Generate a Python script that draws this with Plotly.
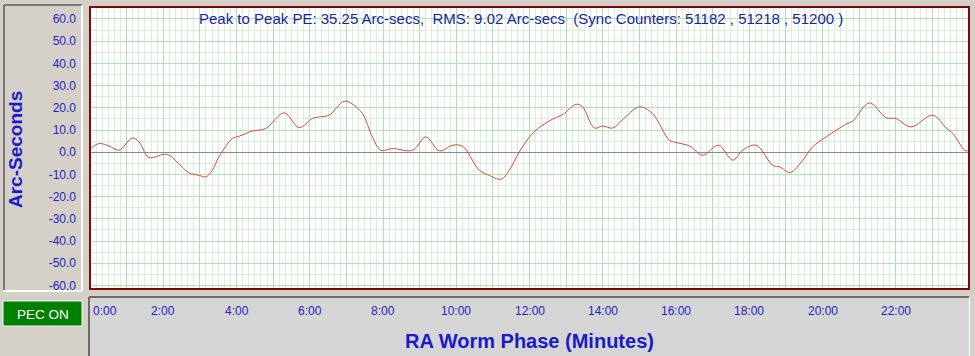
import plotly.graph_objects as go

# ---- data ----
phase_min = [0, 0.25, 0.52, 0.79, 1.16, 1.34, 1.61, 2.02, 2.16, 2.42, 2.7, 2.98, 3.16, 3.34, 3.52,
             3.89, 4.07, 4.43, 4.8, 5.3, 5.71, 6.07, 6.26, 6.53, 6.94, 7.17, 7.44, 7.71, 7.94,
             8.26, 8.81, 9.17, 9.54, 9.9, 10.17, 10.63, 10.9, 11.22, 11.45, 11.72, 12.08, 12.36,
             12.63, 12.91, 13.27, 13.45, 13.77, 14.0, 14.27, 14.62, 15.0, 15.36, 15.82, 16.0,
             16.37, 16.73, 17.16, 17.55, 17.82, 18.19, 18.64, 18.83, 19.12, 19.46, 19.73, 20.1,
             20.64, 20.83, 21.28, 21.74, 22.0, 22.42, 23.01, 23.38, 23.56, 23.88, 23.97]
pe_arcsec = [1.4, 3.9, 2.8, 0.9, 6.4, 4.6, -2.4, -0.9, -1.35, -5.1, -9.3, -10.4, -11.1, -8.1, -2.1,
             6.2, 7.2, 9.5, 10.7, 17.7, 11.1, 15.2, 15.9, 16.7, 23.0, 21.6, 17.4, 6.9, 0.9,
             1.65, 0.9, 6.9, 0.6, 3.15, 2.7, -8.1, -10.4, -12.2, -8.1, 0.1, 8.4, 12.2,
             14.9, 17.0, 21.6, 20.4, 10.9, 11.8, 10.9, 15.9, 20.4, 17.4, 5.4, 4.4,
             2.8, -1.35, 3.15, -3.6, 0.9, 3.15, -5.9, -6.6, -9.1, -3.6, 2.4, 6.9,
             12.6, 14.1, 22.2, 15.5, 15.2, 11.4, 16.7, 10.9, 8.4, 0.9, 0.6]

y_tick_vals = [60, 50, 40, 30, 20, 10, 0, -10, -20, -30, -40, -50, -60]
y_tick_text = ["60.0", "50.0", "40.0", "30.0", "20.0", "10.0", "0.0", "-10.0", "-20.0",
               "-30.0", "-40.0", "-50.0", "-60.0"]
x_tick_vals = [0, 2, 4, 6, 8, 10, 12, 14, 16, 18, 20, 22]
x_tick_text = ["0:00", "2:00", "4:00", "6:00", "8:00", "10:00", "12:00", "14:00", "16:00",
               "18:00", "20:00", "22:00"]

title_text = ("Peak to Peak PE: 35.25 Arc-secs,\u00a0\u00a0RMS: 9.02 Arc-secs\u00a0\u00a0"
              "(Sync Counters: 51182 , 51218 , 51200 )")
x_title = "RA Worm Phase (Minutes)"
y_title = "Arc-Seconds"
status_text = "PEC ON"

# ---- geometry helpers (pixel -> paper) ----
W, H = 975, 356
L, R, T, B = 90, 969, 7, 289


def px(x):
    return (x - L) / (R - L)


def py(y):
    return (B - y) / (B - T)


FONT = "Liberation Sans, Arial, sans-serif"
BLUE = "#2424c4"

fig = go.Figure()
fig.add_trace(go.Scatter(x=phase_min, y=pe_arcsec, mode="lines",
                         line=dict(color="#d24848", width=1, shape="spline", smoothing=1.0),
                         hoverinfo="skip", showlegend=False))

shapes = []
# left panel (y-axis box)
shapes.append(dict(type="rect", xref="paper", yref="paper", x0=px(4), x1=px(82), y0=py(290), y1=py(5),
                   fillcolor="#d4d0c8", line=dict(width=0), layer="below"))
shapes.append(dict(type="line", xref="paper", yref="paper", x0=px(4), x1=px(4), y0=py(290), y1=py(5),
                   line=dict(color="#7a7a7a", width=2)))
shapes.append(dict(type="line", xref="paper", yref="paper", x0=px(4), x1=px(82), y0=py(5), y1=py(5),
                   line=dict(color="#7a7a7a", width=2)))
shapes.append(dict(type="line", xref="paper", yref="paper", x0=px(82), x1=px(82), y0=py(291), y1=py(5),
                   line=dict(color="#ffffff", width=2)))
shapes.append(dict(type="line", xref="paper", yref="paper", x0=px(4), x1=px(82), y0=py(291), y1=py(291),
                   line=dict(color="#ffffff", width=2)))
# PEC ON box
shapes.append(dict(type="rect", xref="paper", yref="paper", x0=px(3), x1=px(82), y0=py(326), y1=py(301),
                   fillcolor="#008000", line=dict(color="#f4f4f4", width=1)))
# bottom panel (x-axis box)
shapes.append(dict(type="rect", xref="paper", yref="paper", x0=px(89), x1=px(969), y0=py(360), y1=py(297),
                   fillcolor="#d5d5d5", line=dict(width=0), layer="below"))
shapes.append(dict(type="line", xref="paper", yref="paper", x0=px(89), x1=px(969), y0=py(297), y1=py(297),
                   line=dict(color="#6a6a6a", width=2)))
shapes.append(dict(type="line", xref="paper", yref="paper", x0=px(89), x1=px(89), y0=py(360), y1=py(297),
                   line=dict(color="#6a6a6a", width=2)))
shapes.append(dict(type="line", xref="paper", yref="paper", x0=px(969.5), x1=px(969.5), y0=py(360), y1=py(297),
                   line=dict(color="#ffffff", width=1)))
# plot border
shapes.append(dict(type="rect", xref="paper", yref="paper", x0=0, x1=1, y0=0, y1=1,
                   line=dict(color="#7a0a0a", width=2), layer="above"))

annotations = []
annotations.append(dict(text=title_text, xref="paper", yref="paper", x=px(197), y=py(18),
                        xanchor="left", yanchor="middle", showarrow=False,
                        font=dict(family=FONT, size=15, color="#1e1ea0")))
for v, t in zip(x_tick_vals, x_tick_text):
    annotations.append(dict(text=t, x=v, xref="x", yref="paper", y=py(311),
                            xanchor="left" if v == 0 else "center", yanchor="middle",
                            xshift=1 if v == 0 else 0, showarrow=False,
                            font=dict(family=FONT, size=12, color=BLUE)))
annotations.append(dict(text="<b>" + x_title + "</b>", xref="paper", yref="paper", x=0.5, y=py(341),
                        xanchor="center", yanchor="middle", showarrow=False,
                        font=dict(family=FONT, size=20, color="#1a1ac8")))
annotations.append(dict(text="<b>" + y_title + "</b>", xref="paper", yref="paper", x=px(15), y=py(150),
                        xanchor="center", yanchor="middle", textangle=-90, showarrow=False,
                        font=dict(family=FONT, size=19, color="#1a1ac8")))
annotations.append(dict(text=status_text, xref="paper", yref="paper", x=px(42.5), y=py(314),
                        xanchor="center", yanchor="middle", showarrow=False,
                        font=dict(family=FONT, size=13.5, color="#ffffff")))

fig.update_layout(
    width=W, height=H,
    margin=dict(l=L, r=W - R, t=T, b=H - B, pad=0),
    paper_bgcolor="#d4d0c8",
    plot_bgcolor="#ffffff",
    shapes=shapes,
    annotations=annotations,
    xaxis=dict(range=[0, 24], tick0=0, dtick=1, showticklabels=False, ticks="",
               showgrid=True, gridcolor="#aee2b4", gridwidth=1, zeroline=False, showline=False,
               minor=dict(dtick=1 / 6, tick0=0, showgrid=True, gridcolor="#d6f0d9", gridwidth=1),
               fixedrange=True),
    yaxis=dict(range=[-61.6, 65.4], tickmode="array", tickvals=y_tick_vals, ticktext=y_tick_text,
               ticks="", ticklabelstandoff=13,
               tickfont=dict(family=FONT, size=12, color=BLUE),
               showgrid=True, gridcolor="#aee2b4", gridwidth=1,
               zeroline=True, zerolinecolor="#8a8a8a", zerolinewidth=1, showline=False,
               minor=dict(dtick=5, tick0=0, showgrid=True, gridcolor="#d6f0d9", gridwidth=1),
               fixedrange=True),
    showlegend=False,
)

fig.write_html("out.html", config={"displayModeBar": False},
               post_script="document.body.style.margin='0';document.body.style.padding='0';"
                           "document.body.style.overflow='hidden';")
